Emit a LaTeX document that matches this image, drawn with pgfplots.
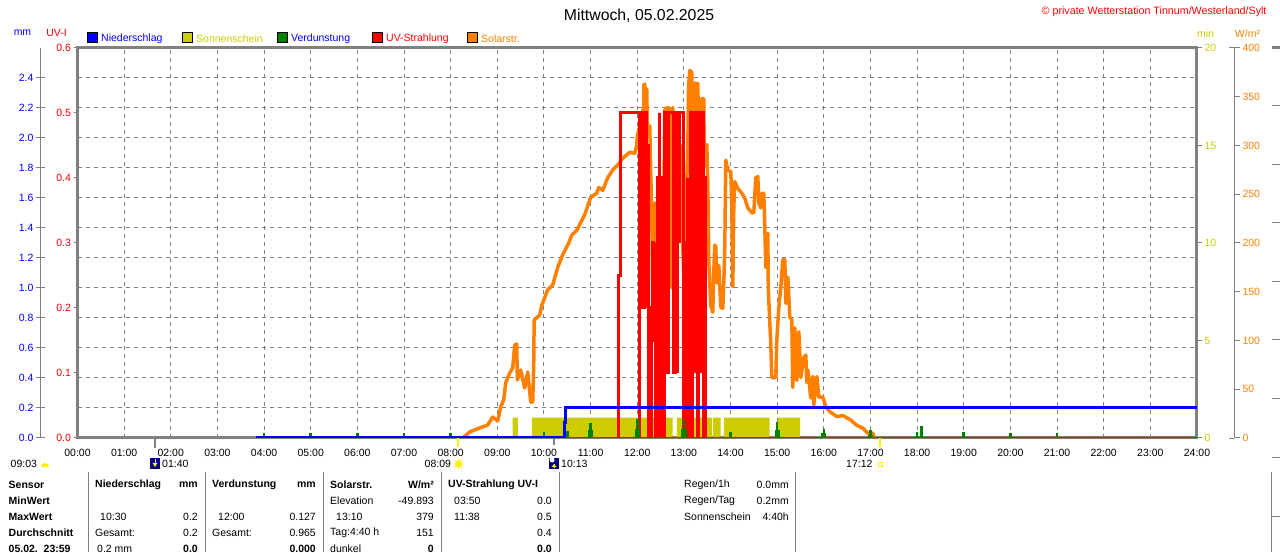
\documentclass[border=0pt]{standalone}
\usepackage{fontspec}
\setmainfont{Liberation Sans}
\usepackage{pgfplots}
\pgfplotsset{compat=1.18}
\definecolor{sun}{HTML}{CCCC00}
\definecolor{sol}{HTML}{FF8000}
\definecolor{ver}{HTML}{008000}
\definecolor{fr}{HTML}{808080}
\newcommand{\fs}{\fontsize{10.5}{12}\selectfont}
\pgfplotsset{base/.style={at={(77.5pt,114pt)},anchor=south west,width=1119.5pt,height=390pt,scale only axis,xmin=0,xmax=24,
  tick label style={font=\fs},axis line style={-}}}
\begin{document}
\begin{tikzpicture}[x=1pt,y=1pt]
\useasboundingbox (0,0) rectangle (1280,552);
\clip (0,0) rectangle (1280,552);
% frame, grid, hour labels
\begin{axis}[base,ymin=0,ymax=2.6,
  xtick={0,1,...,24},
  xticklabels={00:00,01:00,02:00,03:00,04:00,05:00,06:00,07:00,08:00,09:00,10:00,11:00,12:00,13:00,14:00,15:00,16:00,17:00,18:00,19:00,20:00,21:00,22:00,23:00,24:00},
  ytick={0.2,0.4,...,2.41},yticklabels={},
  major tick length=0,xticklabel style={yshift=-7.5pt},
  grid=major,grid style={color=fr,line width=1pt,dash pattern=on 4pt off 4pt},
  axis line style={color=fr,line width=3pt}]
\end{axis}
% Sonnenschein
\begin{axis}[base,ymin=0,ymax=20,axis x line=none,axis y line*=right,
  ytick={0,5,10,15,20},yticklabels={0,5,10,15,20},
  axis line style={draw=none},tick align=outside,major tick length=5pt,
  tick style={color=fr,line width=1pt},y tick label style={color=sun,xshift=-1pt}]
\addplot[fill=sun,draw=none] coordinates {(9.33,0)(9.33,1.05)(9.44,1.05)(9.44,0)(9.74,0)(9.74,1.05)(12.76,1.05)(12.76,0)(12.85,0)(12.85,1.05)(13.60,1.05)(13.60,0)(13.62,0)(13.62,1.05)(13.79,1.05)(13.79,0)(13.855,0)(13.855,1.05)(14.84,1.05)(14.84,0)(15.01,0)(15.01,1.05)(15.49,1.05)(15.49,0)};
\end{axis}
% Solarstrahlung
\begin{axis}[base,ymin=0,ymax=400,axis x line=none,axis y line=none]
\addplot[color=sol,line width=3.5pt,line join=round] coordinates {
(8.279,1)(8.408,6.2)(8.622,10.3)(8.794,13.3)(8.901,21.5)(9.008,17.4)(9.072,31.8)(9.137,39)(9.180,56.4)(9.266,66.7)(9.330,71.8)(9.373,95.4)(9.416,96.4)(9.43,59.5)(9.501,69.7)(9.587,51.3)(9.652,67.7)(9.716,36.9)(9.759,36.9)(9.780,72.8)(9.79,121)(9.909,126)(9.952,136)(10.081,152)(10.188,157)(10.295,175)(10.402,188)(10.531,200)(10.595,208)(10.703,213)(10.874,229)(11.003,247)(11.131,251)(11.174,257)(11.260,254)(11.367,267)(11.475,275)(11.582,280)(11.689,287)(11.839,293)(11.947,292)(11.989,300)(12.0,309)(12.14,340)(12.14,362)(12.161,363)(12.161,330)(12.19,330)(12.19,358)(12.204,358)(12.215,321)(12.268,320)(12.290,270)(12.311,234)(12.333,134)(12.376,241)(12.418,241)(12.547,141)(12.590,336)(12.633,339)(12.654,198)(12.676,339)(12.719,331)(12.740,154)(12.762,339)(12.826,193)(12.933,300)(12.94,247)(12.997,167)(13.083,295)(13.10,360)(13.126,377)(13.169,375)(13.17,330)(13.19,354)(13.21,330)(13.235,364)(13.255,364)(13.277,330)(13.298,364)(13.31,330)(13.33,345)(13.362,330)(13.383,348)(13.426,348)(13.44,278)(13.469,301)(13.491,301)(13.512,265)(13.534,181)(13.577,136)(13.619,129)(13.641,170)(13.662,198)(13.684,196)(13.705,159)(13.72,177)(13.748,177)(13.791,134)(13.834,133)(13.855,159)(13.877,195)(13.898,285)(13.941,275)(14.006,273)(14.027,239)(14.048,155)(14.070,237)(14.091,263)(14.156,256)(14.241,251)(14.306,246)(14.370,236)(14.456,231)(14.499,231)(14.541,267)(14.585,268)(14.606,241)(14.649,236)(14.670,251)(14.713,251)(14.735,216)(14.756,175)(14.799,210)(14.81,152)(14.842,118)(14.863,97)(14.885,62)(14.970,62)(14.992,100)(15.035,134)(15.078,155)(15.121,183)(15.164,183)(15.185,138)(15.228,165)(15.271,124)(15.314,121)(15.335,52)(15.378,113)(15.421,59)(15.464,109)(15.507,62)(15.571,83)(15.614,85)(15.635,57)(15.657,70)(15.721,41)(15.764,63)(15.786,34)(15.850,63)(15.893,42)(15.979,42)(16.043,32)(16.129,27)(16.279,22)(16.408,23)(16.558,19)(16.708,13)(16.837,10)(16.944,5)(17.051,5)(17.072,1)};
\end{axis}
% UV
\begin{axis}[base,ymin=0,ymax=0.6,axis x line=none,axis y line*=left,
  ytick={0,0.1,0.2,0.3,0.4,0.5,0.6},yticklabels={0.0,0.1,0.2,0.3,0.4,0.5,0.6},
  axis line style={draw=none},tick align=outside,major tick length=4pt,
  tick style={color=fr,line width=1pt},y tick label style={color=red,xshift=1pt}]
\addplot[color=red,line width=3pt,line join=miter] coordinates {
(11.603,0)(11.603,.25)(11.636,.25)(11.636,.5)(12.054,.5)(12.054,0)(12.054,.5)(12.107,.5)(12.107,.2)(12.161,.2)(12.161,.5)(12.193,.5)(12.193,.2)(12.193,.45)(12.236,.45)(12.236,0)(12.300,0)(12.300,.2)(12.33,.2)(12.33,.3)(12.343,.3)(12.343,.15)(12.386,.15)(12.386,.3)(12.386,0)(12.440,0)(12.440,.4)(12.483,.4)(12.483,.5)(12.483,0)(12.526,0)(12.526,.4)(12.579,.4)(12.579,.5)(12.579,0)(12.579,.5)(12.622,.5)(12.622,.1)(12.665,.1)(12.665,.5)(12.665,.2)(12.665,.5)(12.772,.5)(12.772,.1)(12.815,.1)(12.815,.5)(12.858,.5)(12.858,.1)(12.858,.5)(12.901,.5)(12.901,.3)(12.901,.5)(12.987,.5)(12.987,0)(13.029,0)(13.029,.3)(13.083,.3)(13.083,.4)(13.083,0)(13.137,0)(13.137,.5)(13.190,.5)(13.190,0)(13.190,.5)(13.244,.5)(13.244,.1)(13.244,.5)(13.287,.5)(13.287,0)(13.319,0)(13.319,.5)(13.351,.5)(13.351,.1)(13.351,.5)(13.416,.5)(13.416,0)(13.448,0)(13.448,.4)(13.469,.4)(13.469,0)};
\end{axis}
% Niederschlag, Verdunstung
\begin{axis}[base,ymin=0,ymax=2.6,axis x line=none,axis y line=none]
\addplot[color=ver,line width=1.5pt] coordinates {(3.83,0)(24,0)};
\addplot[ycomb,color=ver,line width=2.6pt] coordinates {
(4,0.035)(5,0.035)(6,0.035)(7,0.035)(8,0.035)(10,0.04)(10.5,0.045)(11,0.1)(12,0.127)(13,0.127)(14,0.04)(15,0.105)(16,0.06)(17,0.05)(18,0.04)(18.1,0.08)(19,0.04)(20,0.035)(21,0.035)};
\addplot[ycomb,color=ver,line width=1.6pt] coordinates {
(10.96,0.05)(11.04,0.05)(11.96,0.06)(12.04,0.06)(12.96,0.06)(13.04,0.06)(14.96,0.05)(15.04,0.05)(15.96,0.03)(16.04,0.03)(16.97,0.02)(17.03,0.02)(17.97,0.015)(18.03,0.015)};
\addplot[color=blue,line width=3pt,line join=miter] coordinates {(3.83,0)(10.43,0)(10.43,.1)(10.47,.1)(10.47,.2)(24,.2)};
\end{axis}
% mm axis on the far left
\begin{axis}[at={(40pt,114pt)},anchor=south west,width=37pt,height=390pt,scale only axis,xmin=0,xmax=1,ymin=0,ymax=2.6,
  axis x line=none,axis y line*=left,axis line style={-,color=fr,line width=1pt},
  ytick={0,0.2,...,2.41},yticklabels={0.0,0.2,0.4,0.6,0.8,1.0,1.2,1.4,1.6,1.8,2.0,2.2,2.4},
  tick align=center,major tick length=9pt,tick style={color=fr,line width=1pt},
  tick label style={font=\fs},y tick label style={color=blue,xshift=1.5pt}]
\end{axis}
% W/m2 axis
\begin{axis}[at={(1233pt,114pt)},anchor=south west,width=1pt,height=390pt,scale only axis,xmin=0,xmax=1,ymin=0,ymax=400,
  axis x line=none,axis y line*=right,axis line style={-,color=fr,line width=1pt},
  ytick={0,50,...,400},yticklabels={0,50,100,150,200,250,300,350,400},
  tick align=outside,major tick length=6pt,tick style={color=fr,line width=1pt},
  tick label style={font=\fs},y tick label style={color=sol,xshift=-1pt}]
\end{axis}
\draw[fr,line width=1pt] (1229,114)--(1234,114) (1229,504)--(1234,504);
% stubs of the clipped axis at the right edge
\draw[fr,line width=3pt] (1272,504)--(1280,504);
\draw[fr,line width=1pt] (1272,446)--(1280,446) (1272,387)--(1280,387) (1272,329)--(1280,329) (1272,270)--(1280,270) (1272,212)--(1280,212) (1272,153)--(1280,153) (1272,95)--(1280,95) (1272,36)--(1280,36);
% marks below the axis
\draw[fr,line width=2pt] (155,114)--(155,104) (554,114)--(554,107);
\draw[yellow,line width=2pt] (458,114)--(458,105) (880,114)--(880,105);
% title and labels
\node[font=\fontsize{15.8}{18}\selectfont] at (639,536) {Mittwoch, 05.02.2025};
\node[font=\fontsize{10.7}{12}\selectfont,color=red,anchor=east] at (1270,540) {© private Wetterstation Tinnum/Westerland/Sylt};
\node[font=\fs,color=blue] at (22.5,519) {mm};
\node[font=\fs,color=red] at (56.5,519) {UV-I};
\node[font=\fs,color=sun] at (1205.5,518) {min};
\node[font=\fs,color=sol] at (1247.5,518) {W/m²};
% legend
\foreach \x/\c/\tc/\t in {87/blue/blue/Niederschlag,182/sun/sun/Sonnenschein,277/ver/blue/Verdunstung,372/red/red/UV-Strahlung,467/sol/sol/Solarstr.}{
  \filldraw[fill=\c,draw=black,line width=1pt] (\x,509.5) rectangle (\x+10,519);
  \node[font=\fs,color=\tc,anchor=west,inner sep=0pt] at (\x+14,513.5) {\t};
}
% time row
\foreach \x/\t in {10.5/09:03,162/01:40,424.5/08:09,561/10:13,846/17:12}{
  \node[font=\fs,anchor=west,inner sep=0pt] at (\x,88) {\t};}
\fill[yellow] (41,85) arc[start angle=180,end angle=0,radius=4];
\fill[yellow] (458.5,88) circle (3.5);
\draw[yellow,line width=.8pt] (453.5,88)--(463.5,88) (458.5,83)--(458.5,93) (455,84.5)--(462,91.5) (455,91.5)--(462,84.5);
\fill[blue!50!black] (150,83) rectangle (160,94);
\fill[yellow] (155,85)--(152.5,89)--(157.5,89)--cycle; \draw[yellow,line width=1pt] (155,89)--(155,93);
\fill[blue!50!black] (549,83) rectangle (559,94);
\fill[white] (552,92) circle (2.5);
\fill[yellow] (554,88)--(551.5,85)--(556.5,85)--cycle; \draw[yellow,line width=1pt] (554,84)--(554,88);
\draw[yellow,line width=1pt] (878,86)rectangle(882,90);
% table
\draw[fr,line width=1pt] (88.5,80)--(88.5,0) (205,80)--(205,0) (323,80)--(323,0) (441,80)--(441,0) (559,80)--(559,0) (795.5,80)--(795.5,0) (1271,80)--(1271,0);
\foreach \x/\y/\t in {8.5/67/Sensor,8.5/51/MinWert,8.5/35/MaxWert,8.5/19/Durchschnitt,8.5/3/05.02.\ \ 23:59,95/67/Niederschlag,212/67/Verdunstung,330/67/Solarstr.,448/67/UV-Strahlung UV-I}{
  \node[font=\fs\bfseries,anchor=west,inner sep=0pt] at (\x,\y) {\t};}
\foreach \x/\y/\t in {198/67/mm,316/67/mm,434/67/{W/m²},198/3/0.0,316/3/0.000,434/3/0,552/3/0.0}{
  \node[font=\fs\bfseries,anchor=east,inner sep=0pt] at (\x,\y) {\t};}
\foreach \x/\y/\t in {100/35/10:30,95/19/Gesamt:,97/3/0.2 mm,218/35/12:00,212/19/Gesamt:,330/51/Elevation,336/35/13:10,330/19/Tag:4:40 h,330/3/dunkel,454/51/03:50,454/35/11:38,684/67/{Regen/1h},684/51/{Regen/Tag},684/35/Sonnenschein}{
  \node[font=\fs,anchor=west,inner sep=0pt] at (\x,\y) {\t};}
\foreach \x/\y/\t in {198/35/0.2,198/19/0.2,316/35/0.127,316/19/0.965,434/51/-49.893,434/35/379,434/19/151,552/51/0.0,552/35/0.5,552/19/0.4,789/67/0.0mm,789/51/0.2mm,789/35/4:40h}{
  \node[font=\fs,anchor=east,inner sep=0pt] at (\x,\y) {\t};}
\end{tikzpicture}
\end{document}
